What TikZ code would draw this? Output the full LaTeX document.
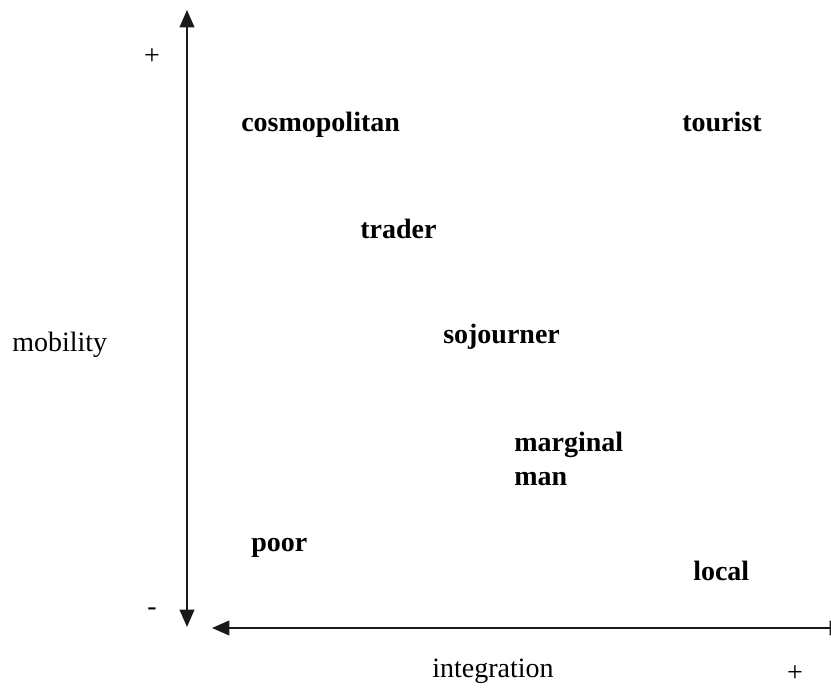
\documentclass[tikz,border=0pt]{standalone}
\usepackage{fontspec}
\setmainfont{Liberation Serif}
\usetikzlibrary{arrows.meta}

\begin{document}
\begin{tikzpicture}[
        x=0.75pt, y=-0.75pt,
        type/.style={anchor=base west, inner sep=0pt, font=\fontsize{21}{25}\selectfont\bfseries},
        axislabel/.style={anchor=base west, inner sep=0pt, font=\fontsize{21}{25}\selectfont},
        sign/.style={inner sep=0pt, font=\fontsize{21}{25}\selectfont},
        axis/.style={{Triangle[length=13pt,width=11pt]}-{Triangle[length=13pt,width=11pt]}, line width=1.4pt, draw=black!90}
    ]
    \useasboundingbox (0,0) rectangle (831,691);

    % axis end points
    \coordinate (ytop) at (187,10);
    \coordinate (ybot) at (187,627);
    \coordinate (xleft) at (212,628);
    \coordinate (xright) at (847,628);

    % axes
    \draw[axis] (ybot) -- (ytop);
    \draw[axis] (xleft) -- (xright);

    % axis labels
    \node[axislabel] (mob) at (12,351) {mobility};
    \node[axislabel] (integ) at (432,677) {integration};
    \node[sign] (yplus) at (152,57) {+};
    \node[sign] (yminus) at (152,612) {-};
    \node[sign] (xplus) at (795,674) {+};

    % types of strangers
    \node[type] (cosmo) at (241,132) {cosmopolitan};
    \node[type] (tour) at (682,132) {tourist};
    \node[type] (trad) at (360,239) {trader};
    \node[type] (soj) at (443,344) {sojourner};
    \node[type] (marg) at (514,451) {marginal};
    \node[type] (man) at (514,485) {man};
    \node[type] (poor) at (251,551) {poor};
    \node[type] (loc) at (693,580) {local};

\end{tikzpicture}
\end{document}
